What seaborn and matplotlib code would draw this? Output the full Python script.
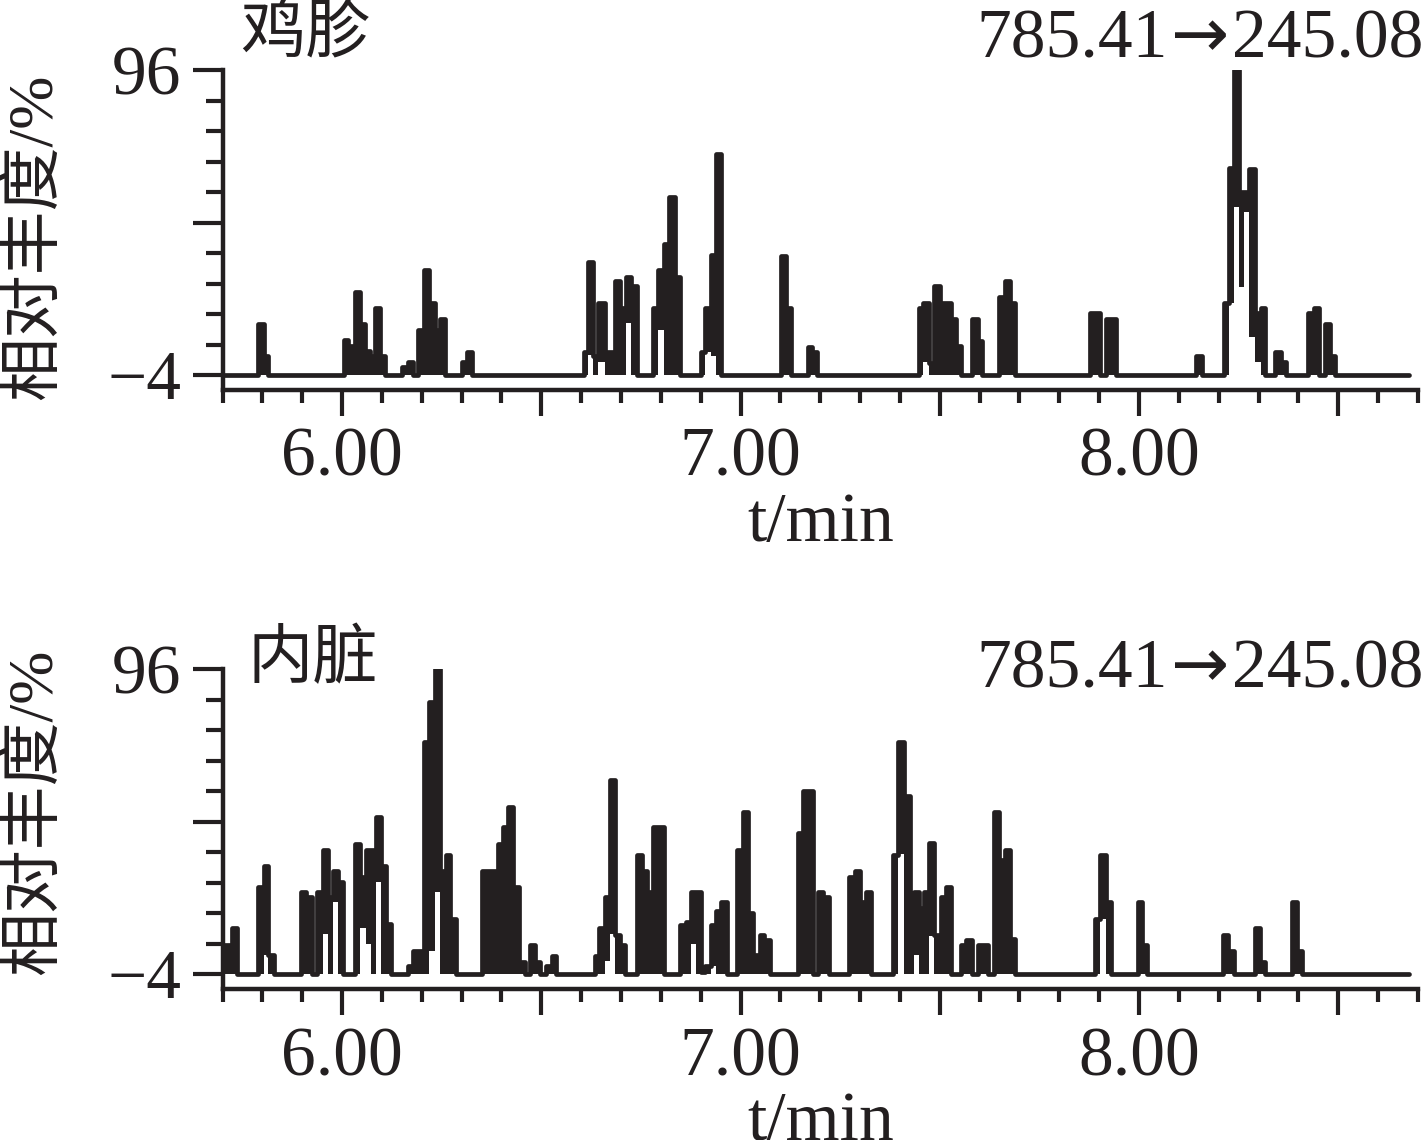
import numpy as np
import pandas as pd
import matplotlib
import matplotlib.pyplot as plt
import seaborn as sns

matplotlib.use('Agg')

# chromatogram columns: left edge time (min), upper level, and lower level where the trace does not return to baseline
BASE = -4.0

top_t = [5.700, 5.790, 5.803, 5.815, 6.005, 6.016, 6.033, 6.045, 6.058, 6.070,
         6.083, 6.095, 6.108, 6.150, 6.166, 6.179, 6.191, 6.206, 6.219, 6.233,
         6.246, 6.258, 6.300, 6.313, 6.325, 6.607, 6.617, 6.630, 6.642, 6.659,
         6.684, 6.697, 6.712, 6.726, 6.739, 6.780, 6.794, 6.807, 6.820, 6.835,
         6.847, 6.901, 6.912, 6.925, 6.939, 6.952, 7.102, 7.115, 7.127, 7.169,
         7.180, 7.192, 7.447, 7.459, 7.472, 7.486, 7.501, 7.528, 7.541, 7.553,
         7.582, 7.595, 7.607, 7.649, 7.664, 7.676, 7.688, 7.877, 7.902, 7.917,
         7.943, 8.142, 8.157, 8.213, 8.226, 8.238, 8.251, 8.263, 8.276, 8.291,
         8.305, 8.316, 8.342, 8.355, 8.369, 8.424, 8.439, 8.451, 8.466, 8.478,
         8.491, 8.677]
top_hi = [-4, 12.7, 2.2, -4, 7.5, 5.5, 23.1, 12.7, 3.9, 2.2,
          17.9, 2.2, -4, -1.3, 0.4, -4, 10.8, 30.4, 19.5, 10.8,
          14.3, -4, 0.4, 3.7, -4, 3.7, 33.2, 2.2, 19.5, 3.7,
          26.8, 17.9, 28.2, 25.2, -4, 17.9, 30.4, 38.8, 54.5, 28.2,
          -4, 3.7, 17.9, 35.4, 68.3, -4, 35.1, 17.9, -4, 5.3,
          3.7, -4, 17.9, 19.5, -0.2, 25.2, 19.5, 14.3, 5.5, -4,
          14.3, 7.3, -4, 21.5, 26.8, 19.5, -4, 16.2, -4, 14.3,
          -4, 2.2, -4, 19.5, 63.8, 96.0, 55.9, 55.9, 63.4, 16.2,
          17.9, -4, 3.7, 0.4, -4, 16.2, 17.9, -4, 12.7, 2.2,
          -4, -4]
top_notch_t = [6.617, 6.642, 6.712, 6.794, 6.912, 6.925, 7.459,
               8.226, 8.238, 8.251, 8.263, 8.276, 8.291]
top_notch_lo = [2.6, 0.4, 12.9, 10.8, 3.7, 2.2, 0.4,
                19.5, 51.2, 25.0, 49.4, 8.6, 0.4]

bot_t = [5.700, 5.724, 5.736, 5.790, 5.803, 5.815, 5.828, 5.897, 5.910, 5.924,
         5.938, 5.952, 5.964, 5.977, 5.991, 6.003, 6.033, 6.045, 6.059, 6.072,
         6.084, 6.098, 6.110, 6.122, 6.166, 6.179, 6.206, 6.219, 6.233, 6.246,
         6.260, 6.272, 6.285, 6.350, 6.392, 6.404, 6.417, 6.429, 6.444, 6.459,
         6.471, 6.484, 6.496, 6.513, 6.526, 6.538, 6.634, 6.644, 6.659, 6.672,
         6.684, 6.697, 6.711, 6.740, 6.753, 6.765, 6.780, 6.807, 6.847, 6.862,
         6.875, 6.887, 6.900, 6.912, 6.925, 6.939, 6.952, 6.967, 6.992, 7.006,
         7.018, 7.031, 7.048, 7.060, 7.074, 7.144, 7.156, 7.181, 7.194, 7.206,
         7.221, 7.273, 7.288, 7.301, 7.315, 7.328, 7.382, 7.396, 7.409, 7.424,
         7.436, 7.447, 7.461, 7.474, 7.486, 7.503, 7.516, 7.528, 7.553, 7.567,
         7.581, 7.597, 7.620, 7.637, 7.649, 7.664, 7.676, 7.688, 7.890, 7.902,
         7.917, 7.929, 7.998, 8.008, 8.021, 8.211, 8.224, 8.238, 8.291, 8.303,
         8.316, 8.384, 8.397, 8.409, 8.677]
bot_hi = [5.5, 11.0, -4, 24.6, 31.5, 2.2, -4, 22.8, 21.1, -4,
          22.8, 36.8, 21.1, 29.9, 26.3, -4, 38.6, 27.7, 36.8, 36.8,
          47.4, 31.5, 12.3, -4, -1.5, 3.6, 72.0, 85.3, 96.0, 29.9,
          35.1, 14.0, -4, 29.9, 38.6, 44.1, 50.6, 24.6, 0.0, -4,
          5.5, 0.0, -4, -1.5, 2.0, -4, 2.0, 11.0, 21.1, 59.6,
          8.8, 5.5, -4, 35.1, 29.9, 22.8, 44.1, -4, 12.1, 13.2,
          22.8, 22.8, -3.2, -1.5, 12.1, 16.8, 19.5, -4, 36.8, 49.0,
          15.9, 2.2, 8.8, 7.3, -4, 42.4, 56.1, -4, 22.8, 21.1,
          -4, 27.9, 29.9, 19.5, 22.8, -4, 35.1, 72.0, 54.3, 10.8,
          22.8, 17.6, 22.8, 39.0, 8.8, 21.1, 24.6, -4, 5.5, 7.3,
          -4, 5.5, -4, 49.0, 33.5, 36.8, 7.5, -4, 14.0, 35.1,
          19.5, -4, 19.5, 5.5, -4, 8.8, 3.6, -4, 11.0, 0.0,
          -4, 19.5, 3.6, -4, -4]
bot_notch_t = [5.803, 5.952, 5.977, 6.045, 6.059, 6.084, 6.219, 6.233,
               6.659, 6.672, 6.875, 6.925, 7.396, 7.436, 7.474, 7.902]
bot_notch_lo = [2.2, 9.1, 19.7, 11.0, 5.8, 26.3, 3.6, 23.0,
                0.4, 9.1, 5.8, -1.5, 35.3, 2.2, 8.6, 14.0]

panel_names = ['鸡胗', '内脏']
precursor, product = '785.41', '245.08'
x_major = [6.0, 6.5, 7.0, 7.5, 8.0, 8.5]
x_major_labels = ['6.00', '', '7.00', '', '8.00', '']
y_major = [-4, 46, 96]
y_major_labels = ['\u22124', '', '96']

INK = '#231f20'

sns.set_style('ticks')
plt.rcParams['font.family'] = ['Liberation Serif', 'Noto Sans CJK SC', 'DejaVu Sans']
plt.rcParams['axes.unicode_minus'] = True

W, H = 1427, 1140
fig = plt.figure(figsize=(W / 100, H / 100), dpi=100)
ax_left = 222.5 / W
ax_width = (1418 - 222.5) / W
ax_top = fig.add_axes([ax_left, 1 - 390 / H, ax_width, 320 / H])
ax_bot = fig.add_axes([ax_left, 1 - 989 / H, ax_width, 320 / H])


def draw_panel(ax, t, hi, notch_t, notch_lo):
    t = np.asarray(t, dtype=float)
    hi = np.asarray(hi, dtype=float)
    lo = np.full(len(t), BASE)
    for nt, nl in zip(notch_t, notch_lo):
        lo[np.isclose(t, nt)] = nl
    ax.fill_between(t, lo, hi, step='post', color=INK, linewidth=0)
    df = pd.DataFrame({'t': t, 'intensity': hi})
    sns.lineplot(data=df, x='t', y='intensity', ax=ax, drawstyle='steps-post',
                 color=INK, linewidth=3.4, errorbar=None)

    ax.set_xlim(5.7, 8.7)
    ax.set_ylim(-8.9, 96)
    ax.set_xticks(x_major)
    ax.set_xticklabels(x_major_labels)
    ax.set_xticks(np.arange(5.7, 8.71, 0.1), minor=True)
    ax.set_yticks(y_major)
    ax.set_yticklabels(y_major_labels)
    ax.set_yticks(np.arange(-4, 97, 10), minor=True)

    for side in ['top', 'right']:
        ax.spines[side].set_visible(False)
    for side in ['left', 'bottom']:
        ax.spines[side].set_linewidth(3.2)
        ax.spines[side].set_color(INK)

    ax.tick_params(axis='x', which='major', length=19, width=3, pad=8,
                   labelsize=50, color=INK, labelcolor=INK)
    ax.tick_params(axis='x', which='minor', length=9, width=3, color=INK)
    ax.tick_params(axis='y', which='major', length=21.6, width=3, pad=8,
                   labelsize=50, color=INK, labelcolor=INK)
    ax.tick_params(axis='y', which='minor', length=12, width=3, color=INK)

    ax.set_xlabel('t/min', fontsize=50, color=INK, labelpad=1)
    ax.set_ylabel('相对丰度/%', fontsize=46, color=INK)


def transition_label(baseline_px):
    # "785.41 → 245.08", right aligned; arrow taken from DejaVu Sans for a heavier head
    renderer = fig.canvas.get_renderer()
    y = 1 - baseline_px / H
    right = fig.text(1423 / W, y, product, ha='right', va='baseline', fontsize=50, color=INK)
    x0 = right.get_window_extent(renderer).x0
    arrow = fig.text((x0 - 2) / W, y, '\u2192', ha='right', va='baseline', fontsize=50,
                     color=INK, family='DejaVu Sans')
    x0 = arrow.get_window_extent(renderer).x0
    fig.text((x0 - 4) / W, y, precursor, ha='right', va='baseline', fontsize=50, color=INK)


draw_panel(ax_top, top_t, top_hi, top_notch_t, top_notch_lo)
draw_panel(ax_bot, bot_t, bot_hi, bot_notch_t, bot_notch_lo)

ax_top.yaxis.set_label_coords(-0.132, 0.478)
ax_bot.yaxis.set_label_coords(-0.132, 0.553)

fig.text(240 / W, 1 - 35 / H, panel_names[0], ha='left', va='center', fontsize=47, color=INK)
fig.text(247 / W, 1 - 661 / H, panel_names[1], ha='left', va='center', fontsize=47, color=INK)
transition_label(57)
transition_label(687)

fig.savefig('out.png', dpi=100, facecolor='white')
plt.close(fig)
